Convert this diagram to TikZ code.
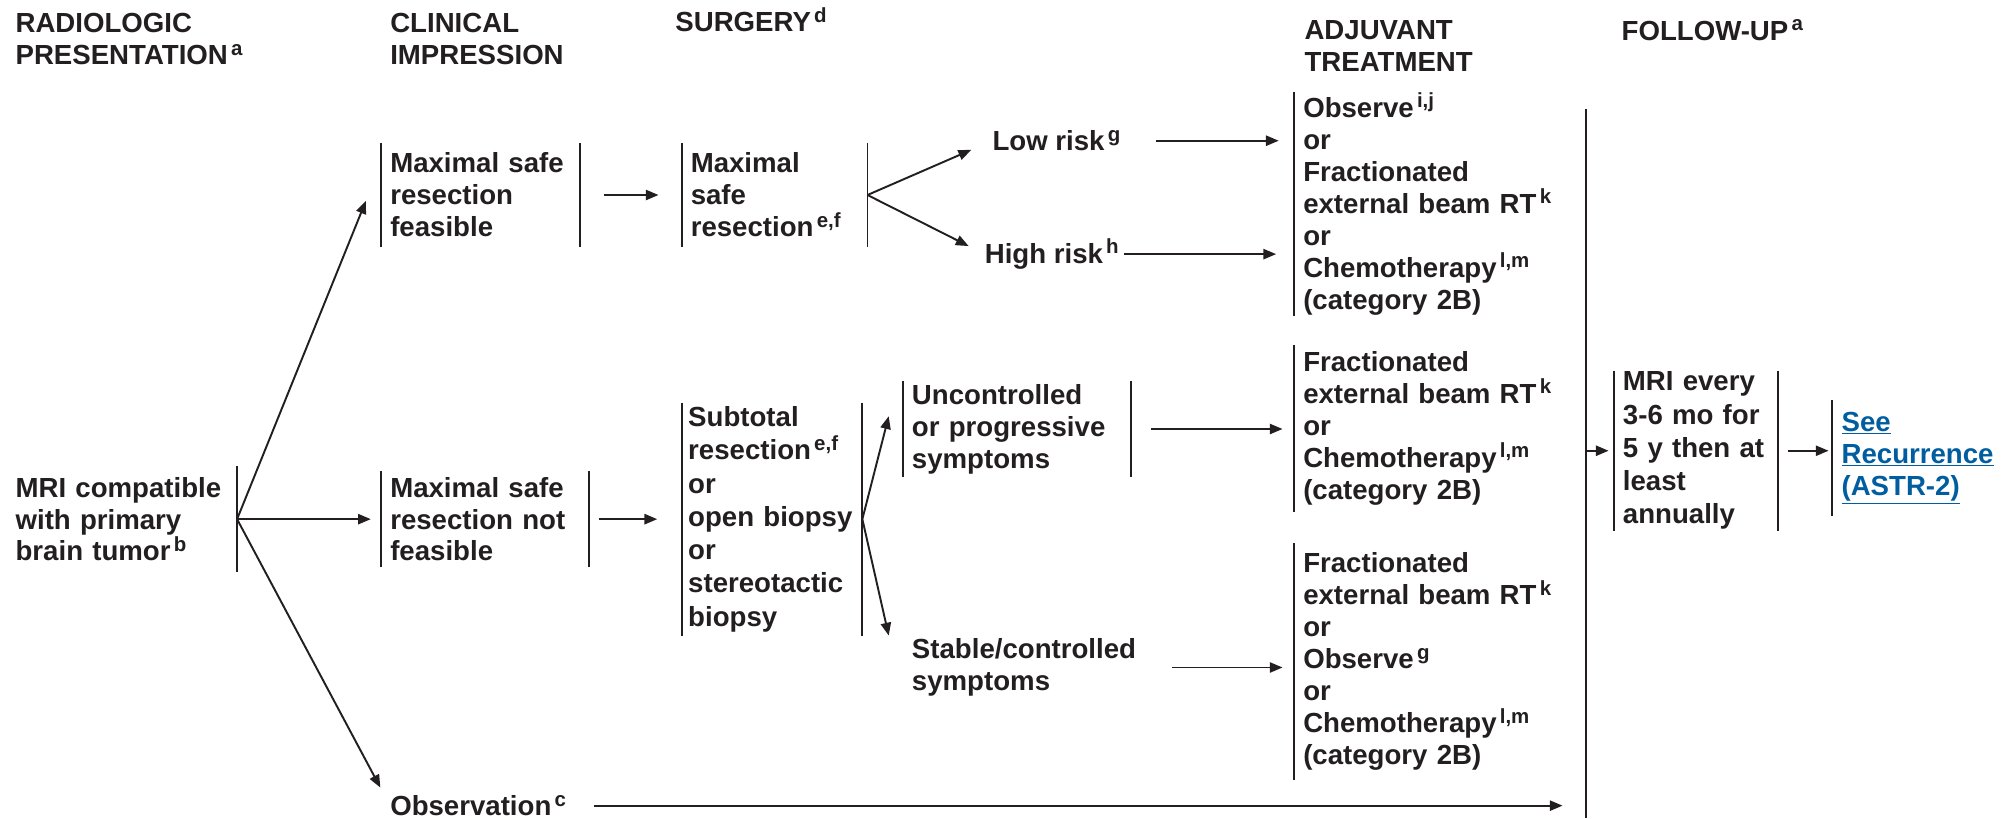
\documentclass[tikz,border=0pt]{standalone}
\usepackage{fontspec}
\setmainfont{Liberation Sans}
\usetikzlibrary{arrows.meta}
\definecolor{ink}{HTML}{231F20}
\definecolor{linkblue}{RGB}{0,94,160}
\newcommand\txtfont{\fontsize{21.6}{25}\selectfont\bfseries}
\newcommand\widefont{\fontsize{21.6}{26}\selectfont\bfseries}
\newcommand\supnote[1]{\hspace{2.5pt}\raisebox{7.5pt}{\fontsize{16}{16}\selectfont #1}}

\begin{document}
\begin{tikzpicture}
	[x=1pt, y=-1pt,
	txt/.style={font=\txtfont, text=ink, align=left, inner sep=0pt},
	box/.style={txt, anchor=west, inner xsep=7pt},
	bar/.style={draw=ink, line width=1.5pt},
	arr/.style={bar, -{Triangle[length=10pt,width=8pt]}}]
	\useasboundingbox (0,0) rectangle (1568,640);
	% column heads
	\node[txt, anchor=north west] (hrad) at (12,10.5) {RADIOLOGIC\\PRESENTATION\supnote{a}};
	\node[txt, anchor=north west] (hcli) at (305,10.5) {CLINICAL\\IMPRESSION};
	\node[txt, anchor=base west] (hsur) at (528,25) {SURGERY\supnote{d}};
	\node[txt, anchor=north west] (hadj) at (1020,16) {ADJUVANT\\TREATMENT};
	\node[txt, anchor=base west] (hfol) at (1268,31.5) {FOLLOW-UP\supnote{a}};
	% presentation and impression
	\node[box, text width=166pt, minimum height=83pt] (mri) at (5,406) {MRI compatible\\with primary\\brain tumor\supnote{b}};
	\node[box, text width=141pt, minimum height=81pt] (feas) at (298,152.5) {Maximal safe\\resection\\feasible};
	\node[box, text width=148pt, minimum height=75pt] (nfeas) at (298,406) {Maximal safe\\resection not\\feasible};
	\node[txt, anchor=base west] (obs) at (305,638) {Observation\supnote{c}};
	% surgery
	\node[box, text width=131pt, minimum height=81pt] (maxres) at (533,152.5) {Maximal\\safe\\resection\supnote{e,f}};
	\node[box, inner xsep=5pt, text width=131pt, minimum height=182pt, font=\widefont] (subtot) at (533,406) {Subtotal\\resection\supnote{e,f}\\or\\open biopsy\\or\\stereotactic\\biopsy};
	\node[txt, anchor=base west] (low) at (776,118) {Low risk\supnote{g}};
	\node[txt, anchor=base west] (high) at (770,206) {High risk\supnote{h}};
	\node[box, text width=164pt, minimum height=75pt] (unctl) at (706,335.5) {Uncontrolled\\or progressive\\symptoms};
	\node[txt, anchor=west] (stable) at (713,522) {Stable/controlled\\symptoms};
	% adjuvant treatment
	\node[box, text width=200pt, minimum height=175pt] (adj1) at (1012,159.5) {Observe\supnote{i,j}\\or\\Fractionated\\external beam RT\supnote{k}\\or\\Chemotherapy\supnote{l,m}\\(category 2B)};
	\node[box, text width=200pt, minimum height=130pt] (adj2) at (1012,335) {Fractionated\\external beam RT\supnote{k}\\or\\Chemotherapy\supnote{l,m}\\(category 2B)};
	\node[box, text width=200pt, minimum height=185pt] (adj3) at (1012,517.5) {Fractionated\\external beam RT\supnote{k}\\or\\Observe\supnote{g}\\or\\Chemotherapy\supnote{l,m}\\(category 2B)};
	% follow-up
	\coordinate (vtop) at (1240,85);
	\coordinate (vbot) at (1240,640);
	\node[box, text width=114pt, minimum height=125pt, font=\widefont] (fu) at (1262,352.5) {MRI every\\3-6 mo for\\5 y then at\\least\\annually};
	\node[box, text width=125pt, minimum height=90pt, text=linkblue] (recur) at (1433,358) {\underline{See}\\\underline{Recurrence}\\\underline{(ASTR-2)}};

	% bars
	\foreach \n in {feas,nfeas,maxres,subtot,unctl,fu} {
		\draw[bar] (\n.north west) -- (\n.south west);
		\draw[bar] (\n.north east) -- (\n.south east);
	}
	\foreach \n in {adj1,adj2,adj3,recur}
		\draw[bar] (\n.north west) -- (\n.south west);
	\draw[bar] (mri.north east) -- (mri.south east);
	\draw[bar] (vtop) -- (vbot);

	% arrows
	\draw[arr, shorten >=5pt] (mri.east) -- ([xshift=-10pt]feas.west);
	\draw[arr, shorten >=8pt] (mri.east) -- (nfeas.west);
	\draw[arr, shorten >=16pt] (mri.east) -- (obs.west);
	\draw[arr, shorten <=19pt, shorten >=18pt] (feas.east) -- (maxres.west);
	\draw[arr, shorten <=8pt, shorten >=19pt] (nfeas.east) -- (subtot.west);
	\draw[arr, shorten >=18pt] (maxres.east) -- (low.west);
	\draw[arr, shorten >=14pt] (maxres.east) -- (high.west);
	\draw[arr] (subtot.east) -- ([xshift=-11pt,yshift=10pt]unctl.west);
	\draw[arr] (subtot.east) -- ([xshift=-18pt,yshift=25pt]stable.west);
	\draw[arr, shorten <=28pt, shorten >=12pt] (low.east) -- (low.east -| adj1.west);
	\draw[arr, shorten <=4pt, shorten >=14pt] (high.east) -- (high.east -| adj1.west);
	\draw[arr, shorten <=16pt, shorten >=9pt] (unctl.east) -- (unctl.east -| adj2.west);
	\draw[arr, shorten <=28pt, shorten >=9pt] (stable.east) -- (stable.east -| adj3.west);
	\draw[arr, shorten <=22pt, shorten >=18pt] (obs.east) -- (obs.east -| vtop);
	\draw[arr, shorten >=4pt] (fu.west -| vtop) -- (fu.west);
	\draw[arr, shorten <=8pt, shorten >=3pt] (fu.east) -- (fu.east -| recur.west);
\end{tikzpicture}
\end{document}
